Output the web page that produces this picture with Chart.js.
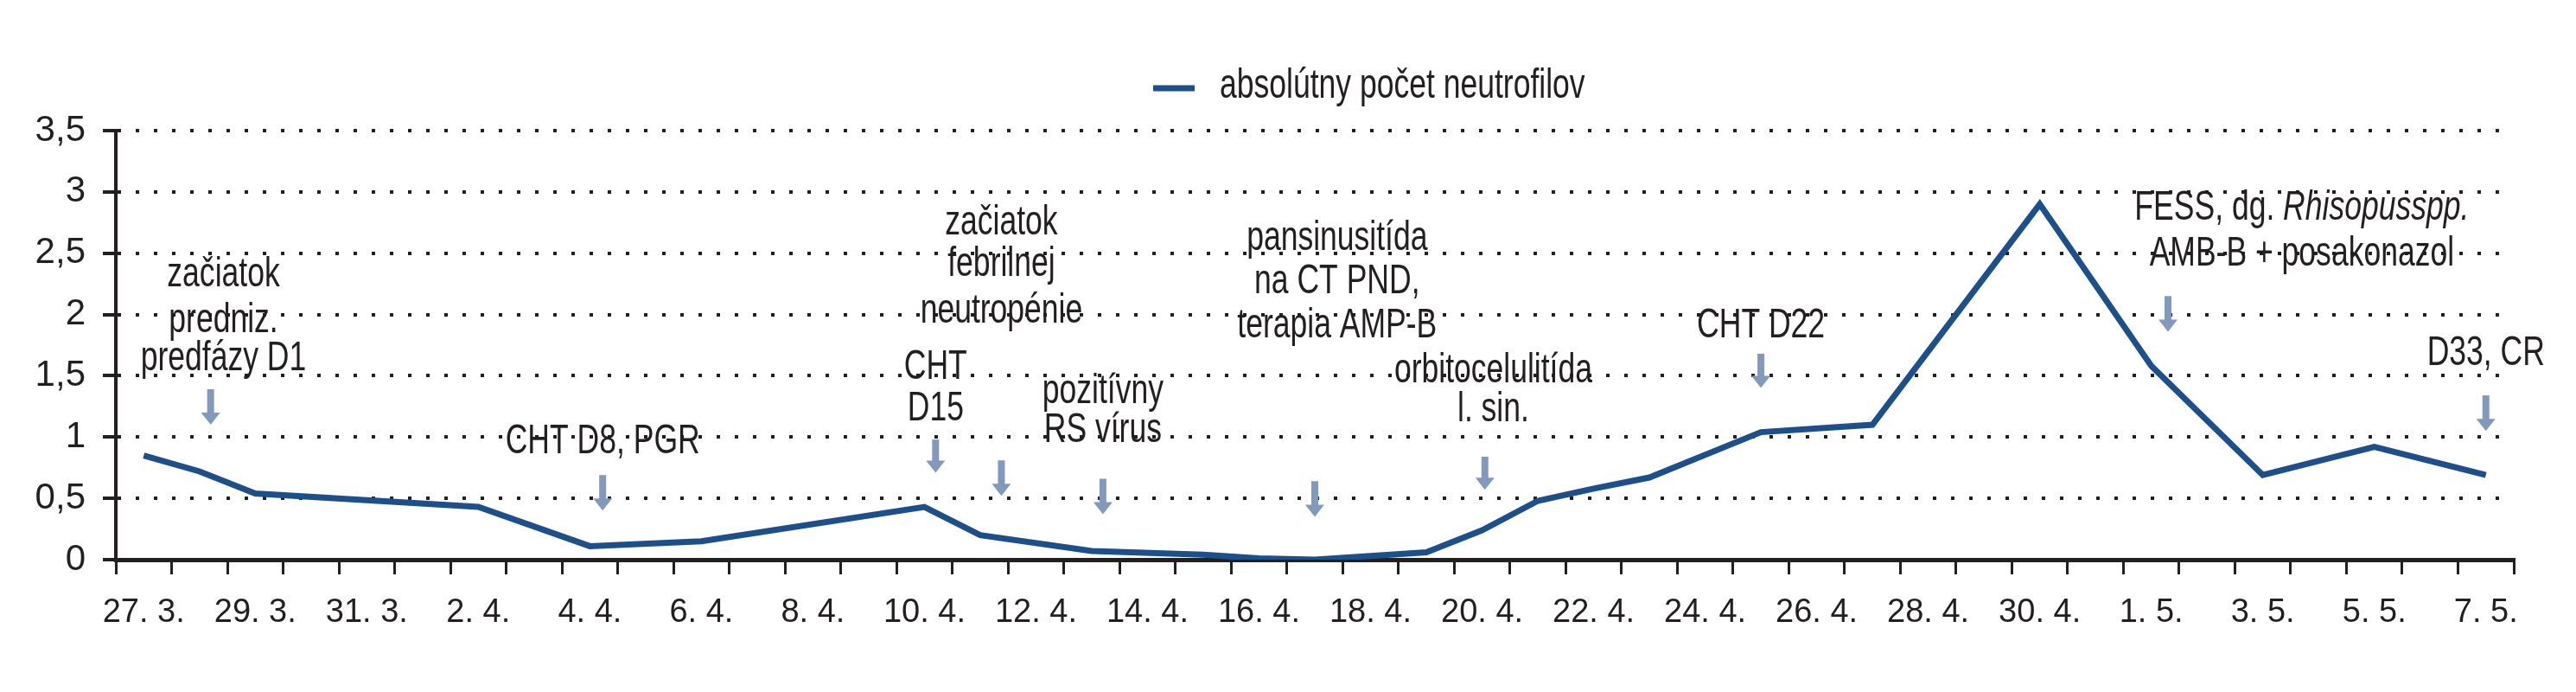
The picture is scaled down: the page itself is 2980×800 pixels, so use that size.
<!DOCTYPE html>
<html><head><meta charset="utf-8">
<script src="https://cdn.jsdelivr.net/npm/chart.js@4"></script>
<style>html,body{margin:0;padding:0;background:#fff}#w{width:2980px;height:800px}</style>
</head><body><div id="w"><canvas id="c"></canvas></div>
<script>
const tickLabels = ['27. 3.','','29. 3.','','31. 3.','','2. 4.','','4. 4.','','6. 4.','','8. 4.','','10. 4.','','12. 4.','','14. 4.','','16. 4.','','18. 4.','','20. 4.','','22. 4.','','24. 4.','','26. 4.','','28. 4.','','30. 4.','','1. 5.','','3. 5.','','5. 5.','','7. 5.'];
const neutrophils = [0.85,0.72,0.54,null,null,null,0.43,null,0.11,null,0.15,null,null,null,0.43,0.2,null,0.07,null,0.04,0.01,0.0,null,0.06,0.24,0.48,0.58,0.67,null,1.04,null,1.1,null,null,2.9,null,1.58,null,0.69,null,0.92,null,0.69];
const seriesName = 'absolútny počet neutrofilov';
const yTicks = [0,0.5,1,1.5,2,2.5,3,3.5];
const notes = [
 {lines:['začiatok','predniz.','predfázy D1'], x:1.43, ys:[2.32,1.95,1.64], ax:1.2, a:[1.39,1.10]},
 {lines:['CHT D8, PGR'], x:8.23, ys:[0.96], ax:8.23, a:[0.69,0.40]},
 {lines:['začiatok','febrilnej','neutropénie'], x:15.38, ys:[2.75,2.41,2.03], ax:15.38, a:[0.81,0.52]},
 {lines:['CHT','D15'], x:14.2, ys:[1.57,1.23], ax:14.2, a:[0.98,0.71]},
 {lines:['pozitívny','RS vírus'], x:17.2, ys:[1.37,1.05], ax:17.2, a:[0.66,0.37]},
 {lines:['pansinusitída','na CT PND,','terapia AMP-B'], x:21.4, ys:[2.62,2.27,1.91], ax:21.0, a:[0.64,0.35]},
 {lines:['orbitocelulitída','l. sin.'], x:24.2, ys:[1.54,1.22], ax:24.05, a:[0.84,0.57]},
 {lines:['CHT D22'], x:29.0, ys:[1.91], ax:29.0, a:[1.68,1.40]},
 {lines:[['FESS, dg. ','Rhisopusspp.'],'AMB-B + posakonazol'], x:38.7, ys:[2.87,2.49], ax:36.3, a:[2.15,1.86]},
 {lines:['D33, CR'], x:42.0, ys:[1.68], ax:42.0, a:[1.34,1.05]}
];
const FONT = '"Liberation Sans",sans-serif';
const SX = 0.74;
const LINE = '#1d4f8a';
const ARROW = '#8399bb';
function txt(ctx,s,x,y,align,italic){
 ctx.save(); ctx.font=(italic?'italic ':'')+'48px '+FONT;
 const w=ctx.measureText(s).width*SX;
 let lx = align==='center'? x-w/2 : x;
 ctx.translate(lx,y); ctx.scale(SX,1); ctx.textAlign='left'; ctx.fillText(s,0,0); ctx.restore();
 return w;
}
function width(ctx,s,italic){ctx.save();ctx.font=(italic?'italic ':'')+'48px '+FONT;const w=ctx.measureText(s).width*SX;ctx.restore();return w;}
const annot = {
 id:'annot',
 afterDatasetsDraw(chart){
  const ctx=chart.ctx, xs=chart.scales.x, ys=chart.scales.y;
  const x0=xs.getPixelForValue(0), step=xs.getPixelForValue(1)-x0;
  const px=i=>x0+i*step;
  ctx.save();
  ctx.textBaseline='middle';
  for(const n of notes){
   ctx.fillStyle='#231f20';
   n.lines.forEach((l,k)=>{
    const y=ys.getPixelForValue(n.ys[k]);
    if(Array.isArray(l)){
     const w1=width(ctx,l[0],false), w2=width(ctx,l[1],true);
     const sx=px(n.x)-(w1+w2)/2;
     txt(ctx,l[0],sx,y,'left',false);
     txt(ctx,l[1],sx+w1,y,'left',true);
    } else txt(ctx,l,px(n.x),y,'center',false);
   });
   const ax=px(n.ax), t=ys.getPixelForValue(n.a[0]), b=ys.getPixelForValue(n.a[1]);
   ctx.fillStyle=ARROW;
   ctx.fillRect(ax-4,t,8,b-t-12);
   ctx.beginPath(); ctx.moveTo(ax-11,b-14); ctx.lineTo(ax+11,b-14); ctx.lineTo(ax,b); ctx.closePath(); ctx.fill();
  }
  ctx.strokeStyle=LINE; ctx.lineWidth=7;
  ctx.beginPath(); ctx.moveTo(1334,102); ctx.lineTo(1382,102); ctx.stroke();
  ctx.fillStyle='#231f20';
  txt(ctx,seriesName,1411,100,'left',false);
  ctx.restore();
 }
};
new Chart(document.getElementById('c'),{
 type:'line',
 data:{labels:tickLabels,datasets:[{label:seriesName,data:neutrophils,borderColor:LINE,borderWidth:7,pointRadius:0,spanGaps:true,tension:0}]},
 options:{
  responsive:true,maintainAspectRatio:false,animation:false,
  layout:{padding:{top:151,right:72,left:0,bottom:0}},
  plugins:{legend:{display:false},tooltip:{enabled:false}},
  scales:{
   x:{offset:true,
      grid:{offset:true,drawOnChartArea:false,tickLength:17,color:'#231f20',lineWidth:3},
      border:{display:true,color:'#231f20',width:5},
      ticks:{autoSkip:false,maxRotation:0,minRotation:0,padding:22,color:'#231f20',font:{family:FONT,size:38}},
      afterFit(s){s.height=153;}},
   y:{min:0,max:3.5,
      afterBuildTicks(s){s.ticks=yTicks.map(v=>({value:v}));},
      grid:{color:'#231f20',lineWidth:4,tickLength:15,tickColor:'#231f20',tickBorderDash:[]},
      border:{display:true,color:'#231f20',width:4,dash:[4,17]},
      ticks:{padding:20,color:'#231f20',font:{family:FONT,size:42},callback:v=>String(v).replace('.',',')},
      afterFit(s){s.width=134;}}
  }
 },
 plugins:[annot]
});
</script></body></html>
